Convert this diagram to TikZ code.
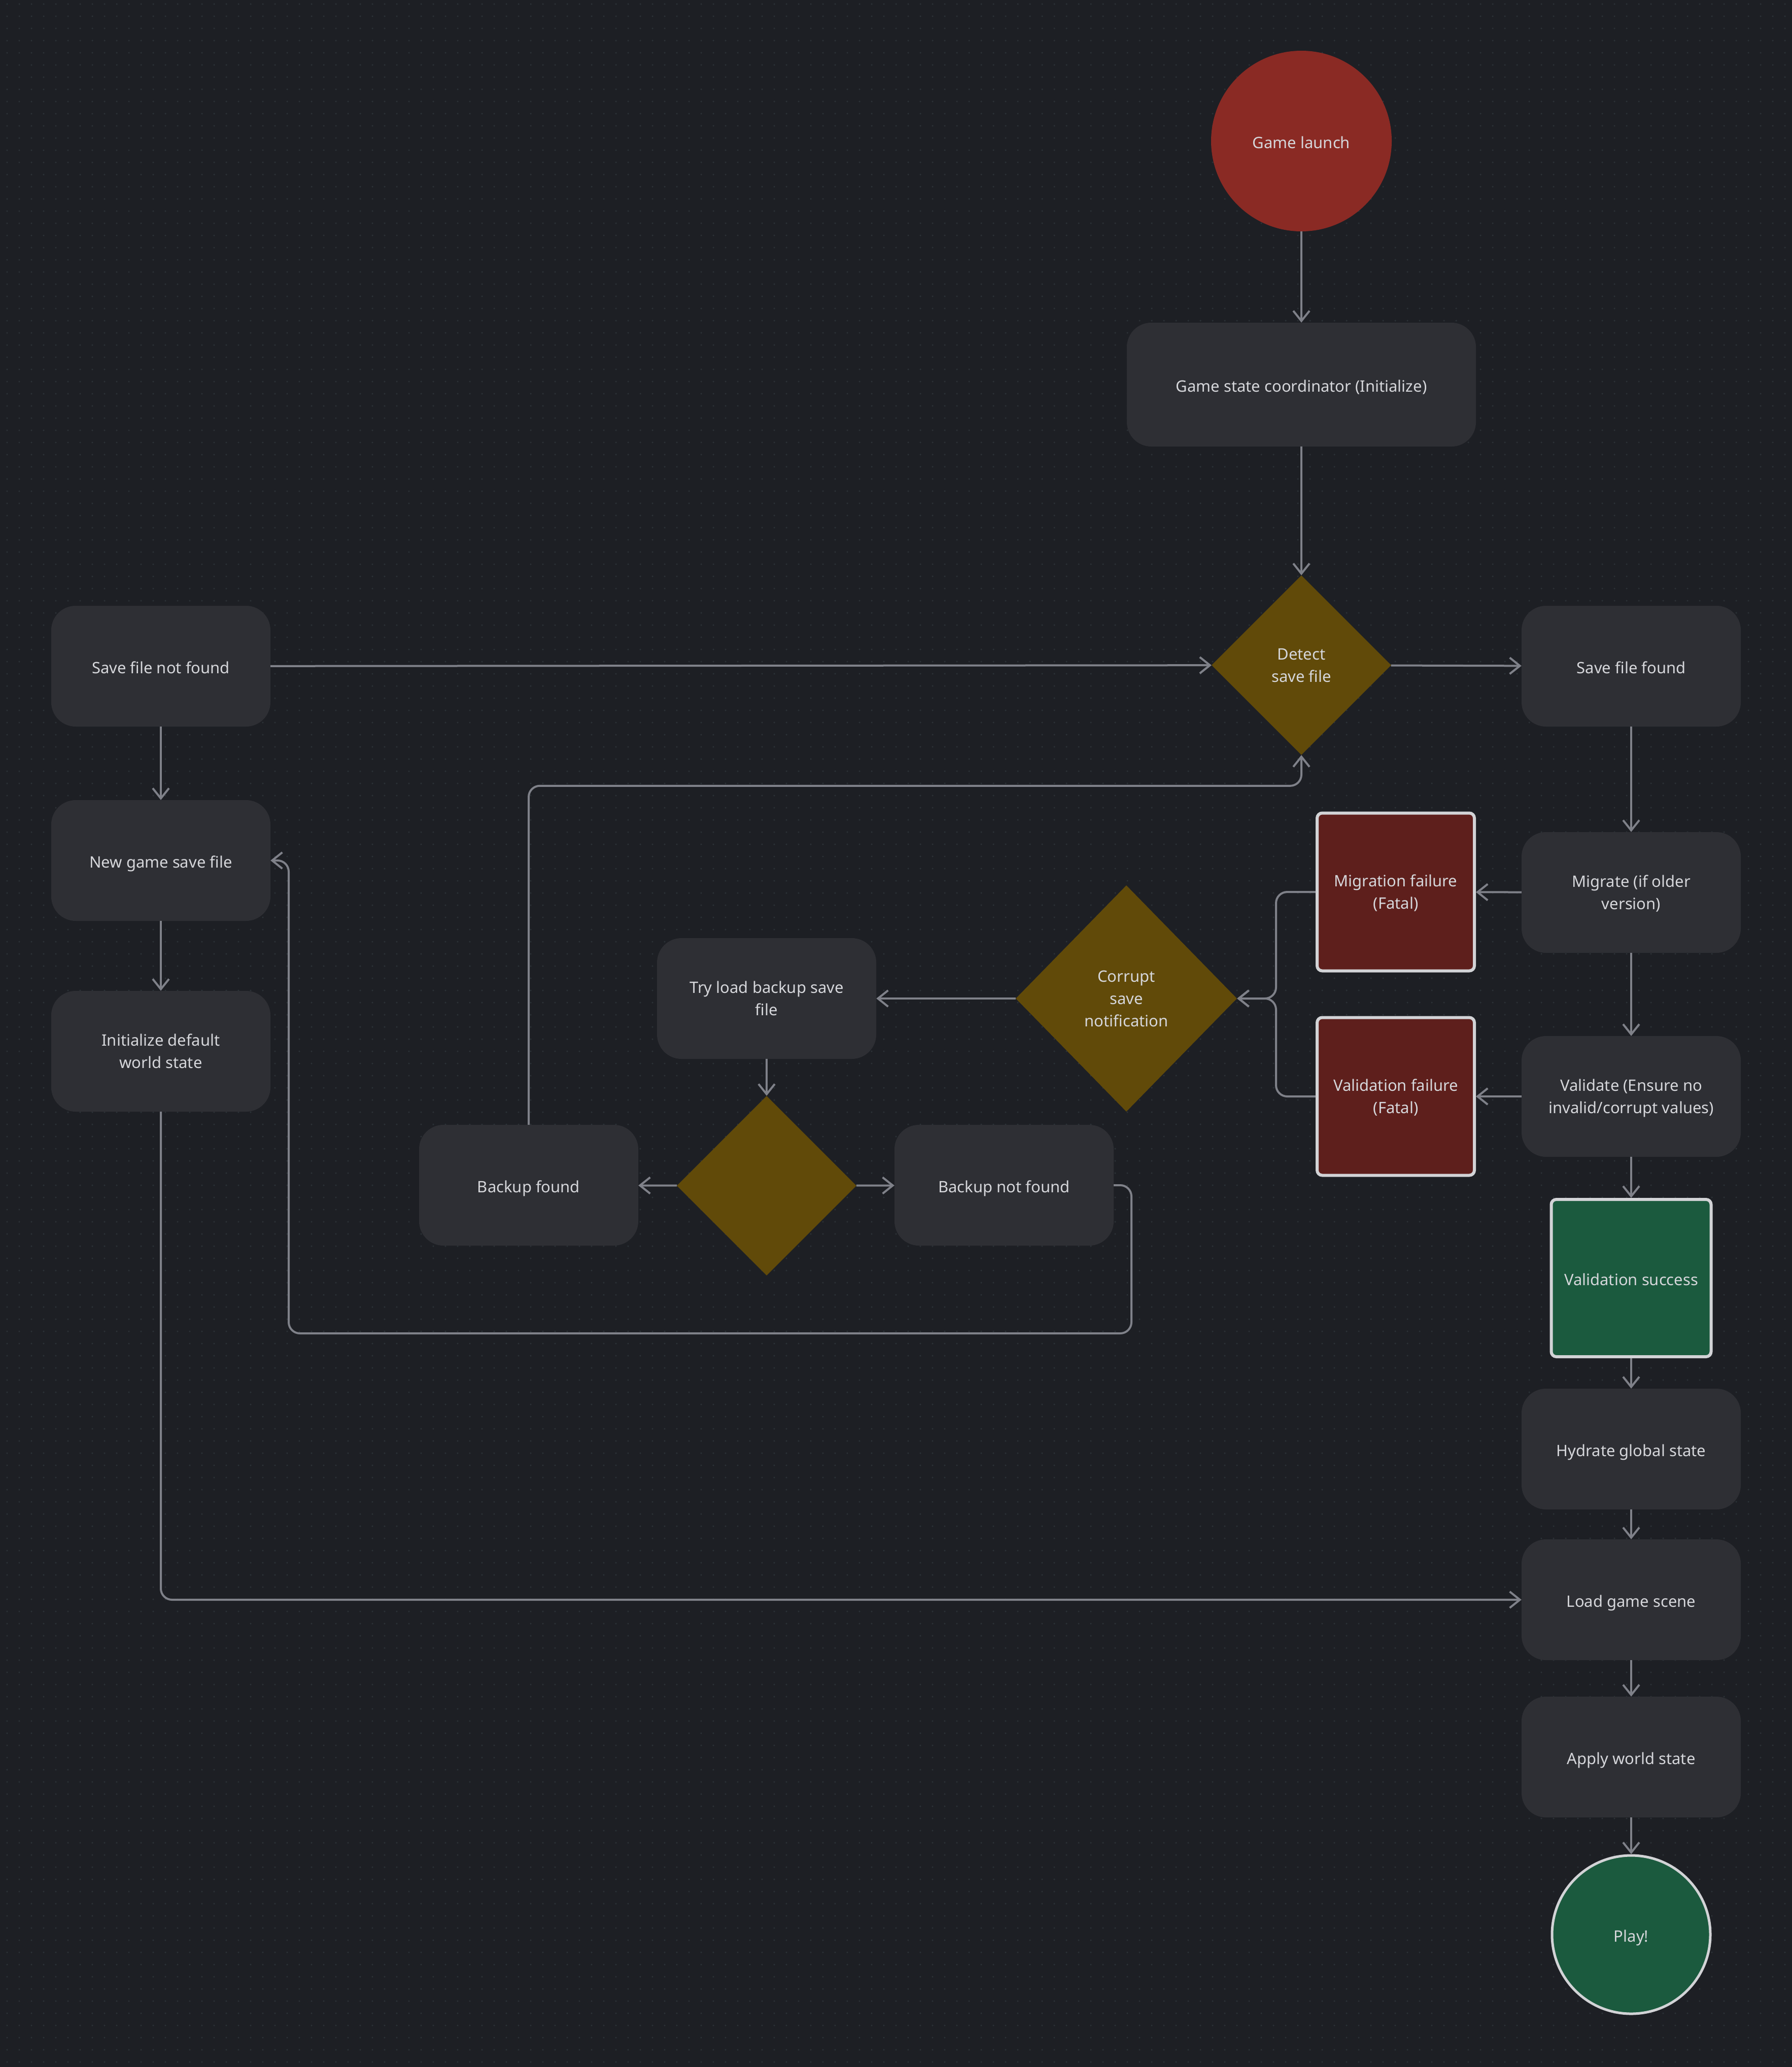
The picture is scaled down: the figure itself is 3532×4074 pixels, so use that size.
\documentclass[tikz,border=0pt]{standalone}
\usepackage{fontspec}
\setmainfont{Noto Sans}
\usetikzlibrary{shapes.geometric,arrows.meta}
\definecolor{bg}{HTML}{1D1F24}
\definecolor{dotc}{HTML}{2C3237}
\definecolor{boxc}{HTML}{2E2F34}
\definecolor{txt}{HTML}{D6D7DB}
\definecolor{linec}{HTML}{7F8189}
\definecolor{redc}{HTML}{8A2A24}
\definecolor{gold}{HTML}{614A09}
\definecolor{darkred}{HTML}{5E1F1C}
\definecolor{greenc}{HTML}{1B5A3E}
\definecolor{borderc}{HTML}{D2D3D6}
\newcommand\tstrut{\vrule width 0pt height 37pt depth 9pt}
\newcommand\mlines[1]{\raisebox{-3pt}[\height][\depth]{\begin{tabular}{@{}c@{}}#1\end{tabular}}}
\begin{document}
\begin{tikzpicture}[x=1pt,y=-1pt,
  every node/.style={text=txt, font=\fontsize{31}{44}\selectfont, align=center, inner sep=0pt,
    execute at begin node=\tstrut, execute at end node=\tstrut},
  proc/.style={rectangle, rounded corners=48pt, fill=boxc, minimum width=432pt, minimum height=238pt},
  dec/.style={diamond, fill=gold, minimum width=354pt, minimum height=354pt},
  fatal/.style={rectangle, rounded corners=10pt, fill=darkred, draw=borderc, line width=6pt, minimum width=310pt, minimum height=311pt},
  good/.style={rectangle, rounded corners=10pt, fill=greenc, draw=borderc, line width=6pt, minimum width=315pt, minimum height=310pt},
  conn/.style={draw=linec, line width=4pt, -{Straight Barb[length=20pt,width=32pt,line width=4pt]}, rounded corners=22pt},
]
\useasboundingbox (0,0) rectangle (3532,4074);
\fill[bg] (0,0) rectangle (3532,4074);
\foreach \yy in {8,32,...,4074}
  \draw[dotc, line width=3.5pt, line cap=round, dash pattern=on 0pt off 24pt] (14,\yy) -- (3532,\yy);

% nodes
\node[circle, fill=redc, minimum size=356pt] (launch) at (2565,278) {Game launch};
\node[proc, minimum width=688pt, minimum height=244pt] (coord) at (2565,758) {Game state coordinator (Initialize)};
\node[dec] (detect) at (2565,1311) {\mlines{Detect\\save file}};
\node[proc] (found) at (3215,1313) {Save file found};
\node[proc] (notfound) at (317,1313) {Save file not found};
\node[proc] (newgame) at (317,1696) {New game save file};
\node[proc] (initw) at (317,2072) {\mlines{Initialize default\\world state}};
\node[proc] (migrate) at (3215,1759) {\mlines{Migrate (if older\\version)}};
\node[proc] (validate) at (3215,2161) {\mlines{Validate (Ensure no\\invalid/corrupt values)}};
\node[fatal] (migfail) at (2751,1758) {\mlines{Migration failure\\(Fatal)}};
\node[fatal] (valfail) at (2751,2161) {\mlines{Validation failure\\(Fatal)}};
\node[diamond, fill=gold, minimum width=436pt, minimum height=446pt] (corrupt) at (2220,1968) {\mlines{Corrupt\\save\\notification}};
\node[proc] (tryload) at (1511,1968) {\mlines{Try load backup save\\file}};
\node[dec] (bdec) at (1511,2337) {};
\node[proc] (bfound) at (1042,2336) {Backup found};
\node[proc] (bnotfound) at (1979,2336) {Backup not found};
\node[good] (vsuccess) at (3215,2519) {Validation success};
\node[proc] (hydrate) at (3215,2856) {Hydrate global state};
\node[proc] (load) at (3215,3153) {Load game scene};
\node[proc] (apply) at (3215,3463) {Apply world state};
\node[circle, fill=greenc, draw=borderc, line width=5pt, minimum size=312pt] (play) at (3215,3813) {Play!};

% connectors
\draw[conn] (launch) -- (coord);
\draw[conn] (coord) -- (detect);
\draw[conn] (detect) -- (found);
\draw[conn] (notfound) -- (detect);
\draw[conn] (found) -- (migrate);
\draw[conn] (migrate) -- (validate);
\draw[conn] (migrate) -- (migfail);
\draw[conn] (validate) -- (valfail);
\draw[conn] (migfail.west) -- ++(-78,0) |- (corrupt.east);
\draw[conn] (valfail.west) -- ++(-78,0) |- (corrupt.east);
\draw[conn] (corrupt) -- (tryload);
\draw[conn] (tryload) -- (bdec);
\draw[conn] (bdec) -- (bfound);
\draw[conn] (bdec) -- (bnotfound);
\draw[conn] (bfound.north) -- ++(0,-668) -| (detect.south);
\draw[conn] (bnotfound.east) -- (2230,2336) -- (2230,2628) -- (569,2628) -- (569,1696) -- (newgame.east);
\draw[conn] (notfound) -- (newgame);
\draw[conn] (newgame) -- (initw);
\draw[conn] (initw.south) |- (load.west);
\draw[conn] (validate) -- (vsuccess);
\draw[conn] (vsuccess) -- (hydrate);
\draw[conn] (hydrate) -- (load);
\draw[conn] (load) -- (apply);
\draw[conn] (apply) -- (play);
\end{tikzpicture}
\end{document}
